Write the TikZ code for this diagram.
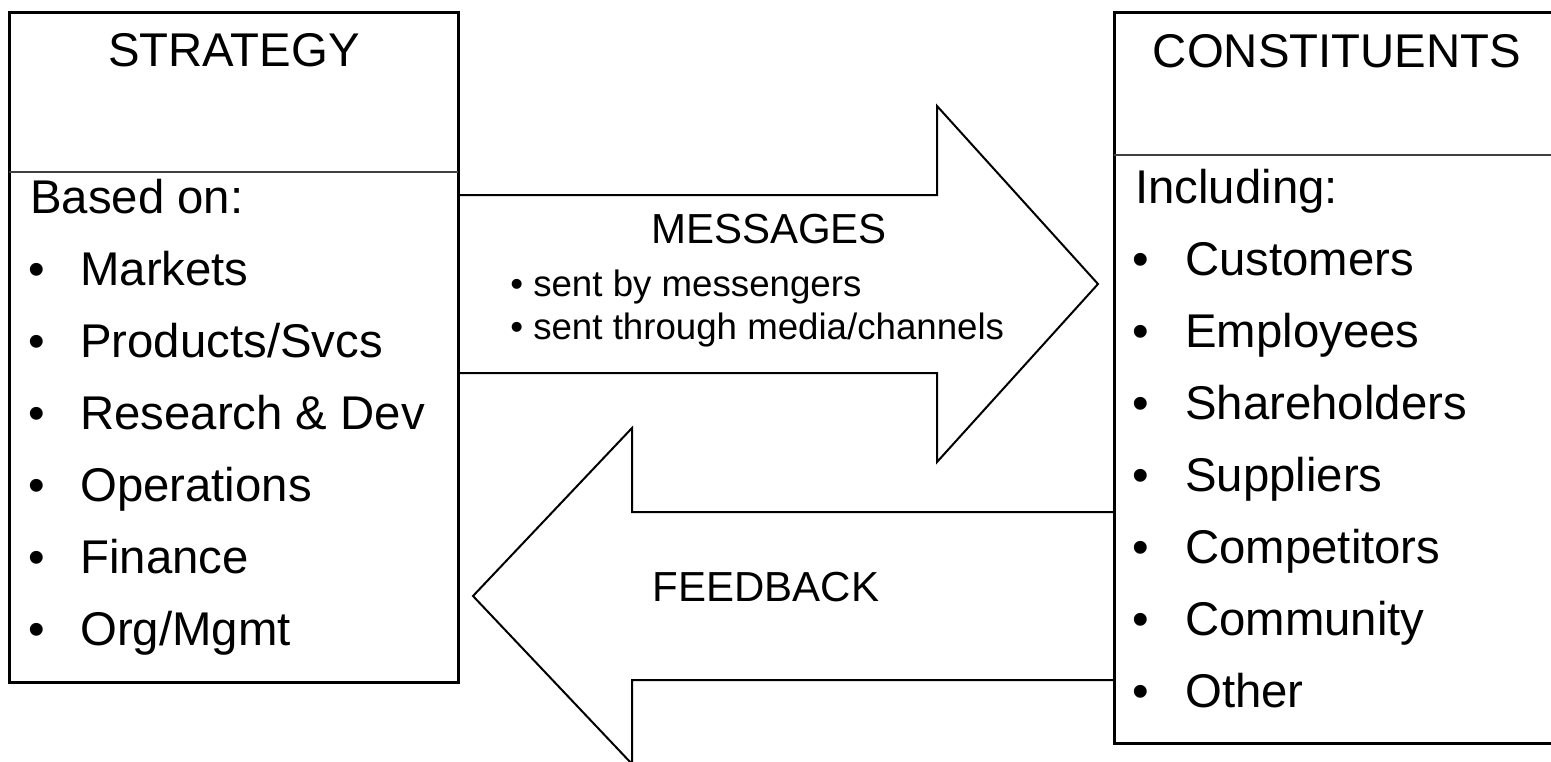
\documentclass[tikz,border=0pt]{standalone}
\usepackage{fontspec}
\setmainfont{Liberation Sans}
\begin{document}
\begin{tikzpicture}[x=0.75pt,y=-0.75pt,
  boxline/.style={line width=2.25pt, draw=black},
  divline/.style={line width=1.5pt, draw=black!75},
  arrowline/.style={line width=1.5pt, draw=black, line join=miter},
  bigtxt/.style={font=\fontsize{35.5}{40}\selectfont, inner sep=0pt},
  midtxt/.style={font=\fontsize{31.5}{36}\selectfont, inner sep=0pt},
  smalltxt/.style={font=\fontsize{27.5}{32}\selectfont, inner sep=0pt, anchor=base west}]
\useasboundingbox (0,0) rectangle (1551,761);
\clip (0,0) rectangle (1551,761);

% left box
\coordinate (lbTL) at (9,12);
\coordinate (lbBR) at (458,682);
\draw[boxline] (lbTL) rectangle (lbBR);
\draw[divline] (9,172) -- (458,172);

% right box
\coordinate (rbTL) at (1114,12);
\coordinate (rbBR) at (1570,743);
\draw[boxline] (rbTL) rectangle (rbBR);
\draw[divline] (1114,155) -- (1570,155);

% right arrow (MESSAGES)
\coordinate (ra1) at (458,195);
\coordinate (ra2) at (937,195);
\coordinate (ra3) at (937,106);
\coordinate (ratip) at (1098,284);
\coordinate (ra5) at (937,462);
\coordinate (ra6) at (937,373);
\coordinate (ra7) at (458,373);
\draw[arrowline] (ra1) -- (ra2) -- (ra3) -- (ratip) -- (ra5) -- (ra6) -- (ra7);

% left arrow (FEEDBACK)
\coordinate (la1) at (1114,512);
\coordinate (la2) at (632,512);
\coordinate (la3) at (632,428);
\coordinate (latip) at (473,596);
\coordinate (la5) at (632,764);
\coordinate (la6) at (632,680);
\coordinate (la7) at (1114,680);
\draw[arrowline] (la1) -- (la2) -- (la3) -- (latip) -- (la5) -- (la6) -- (la7);

% left box texts
\node[bigtxt, anchor=base] (strat) at (234,66) {STRATEGY};
\node[bigtxt, anchor=base west] (based) at (30,213) {Based on:};
\foreach \t [count=\i] in {Markets,Products/Svcs,Research \& Dev,Operations,Finance,Org/Mgmt}{
  \node[bigtxt, anchor=base] (lb\i) at (37,{213+72*\i}) {•};
  \node[bigtxt, anchor=base west] (lt\i) at (80,{213+72*\i}) {\t};
}

% right box texts
\node[bigtxt, anchor=base] (const) at (1337,67) {CONSTITUENTS};
\node[bigtxt, anchor=base west] (incl) at (1135,203) {Including:};
\foreach \t [count=\i] in {Customers,Employees,Shareholders,Suppliers,Competitors,Community,Other}{
  \node[bigtxt, anchor=base] (rb\i) at (1141,{203+72*\i}) {•};
  \node[bigtxt, anchor=base west] (rt\i) at (1185,{203+72*\i}) {\t};
}

% arrow texts
\node[midtxt, anchor=base] (msg) at (769,243) {MESSAGES};
\node[smalltxt] (m1) at (510,296) {• sent by messengers};
\node[smalltxt] (m2) at (510,339) {• sent through media/channels};
\node[midtxt, anchor=base] (fb) at (766,601) {FEEDBACK};
\end{tikzpicture}
\end{document}
